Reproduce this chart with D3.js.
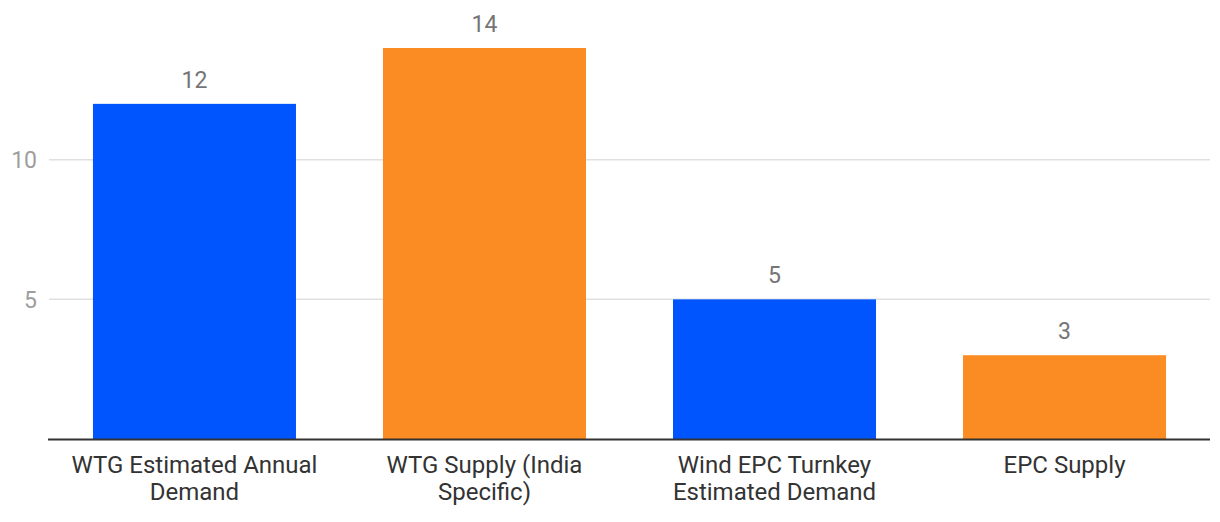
<!DOCTYPE html>
<html><head><meta charset="utf-8">
<script src="https://cdn.jsdelivr.net/npm/d3@7"></script>
<style>body{margin:0;background:#fff}svg{display:block;font-family:Roboto,sans-serif}</style>
</head><body><svg id="c" width="1220" height="522"></svg>
<script>
const categories = [["WTG Estimated Annual","Demand"],["WTG Supply (India","Specific)"],["Wind EPC Turnkey","Estimated Demand"],["EPC Supply"]];
const values = [12, 14, 5, 3];
const colors = ["#0055ff", "#fb8c23", "#0055ff", "#fb8c23"];
const yTicks = [5, 10];

const svg = d3.select("#c");
const x = d3.scaleBand().domain(d3.range(values.length)).range([48, 1211]).paddingInner(0.3).paddingOuter(0.155);
const y = d3.scaleLinear().domain([0, 14]).range([439, 48]);

svg.append("g").selectAll("line").data(yTicks).join("line")
  .attr("x1", 49).attr("x2", 1210).attr("y1", d => y(d)).attr("y2", d => y(d))
  .attr("stroke", "#e0e0e0").attr("stroke-width", 1.5);
svg.append("g").selectAll("text").data(yTicks).join("text")
  .attr("x", 37).attr("y", d => y(d)).attr("dy", "0.36em").attr("text-anchor", "end")
  .attr("font-size", 23).attr("fill", "#9e9e9e").text(d => d);

svg.append("g").selectAll("rect").data(values).join("rect")
  .attr("x", (d, i) => x(i)).attr("width", x.bandwidth())
  .attr("y", d => y(d)).attr("height", d => y(0) - y(d)).attr("fill", (d, i) => colors[i]);

svg.append("g").selectAll("text").data(values).join("text")
  .attr("x", (d, i) => x(i) + x.bandwidth() / 2).attr("y", d => y(d) - 16)
  .attr("text-anchor", "middle").attr("font-size", 23).attr("fill", "#757575").text(d => d);

svg.append("line").attr("x1", 48).attr("x2", 1210).attr("y1", 439.5).attr("y2", 439.5)
  .attr("stroke", "#333").attr("stroke-width", 2);

const cl = svg.append("g").selectAll("text").data(categories).join("text")
  .attr("x", (d, i) => x(i) + x.bandwidth() / 2).attr("y", 473)
  .attr("text-anchor", "middle").attr("font-size", 24).attr("fill", "#333");
cl.selectAll("tspan").data(d => d).join("tspan")
  .attr("x", function() { return this.parentNode.getAttribute("x"); })
  .attr("dy", (d, i) => i === 0 ? 0 : 27).text(d => d);
</script></body></html>
